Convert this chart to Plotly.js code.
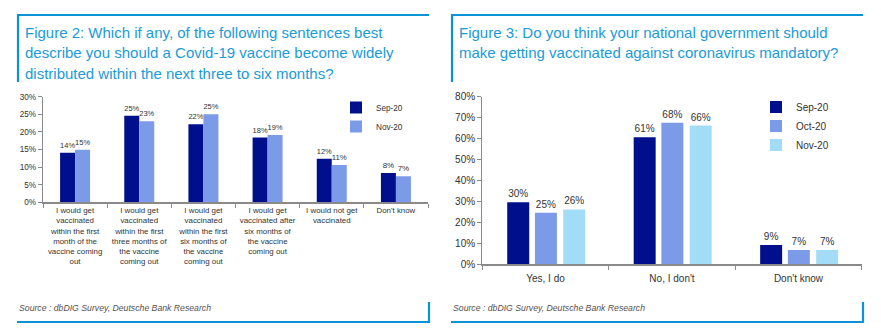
<!DOCTYPE html>
<html>
<head>
<meta charset="utf-8">
<script src="https://cdn.plot.ly/plotly-3.0.1.min.js"></script>
<style>
  html, body { margin: 0; padding: 0; background: #ffffff; }
  #chart { width: 881px; height: 333px; }
</style>
</head>
<body>
<div id="chart"></div>
<script>
// ---------- Data ----------
const leftCategories = [
  'I would get<br>vaccinated<br>within the first<br>month of the<br>vaccine coming<br>out',
  'I would get<br>vaccinated<br>within the first<br>three months of<br>the vaccine<br>coming out',
  'I would get<br>vaccinated<br>within the first<br>six months of<br>the vaccine<br>coming out',
  'I would get<br>vaccinated after<br>six months of<br>the vaccine<br>coming out',
  'I would not get<br>vaccinated',
  "Don't know"
];
const leftSep20 = [14.1, 24.6, 22.2, 18.4, 12.4, 8.3];
const leftNov20 = [14.9, 23.0, 25.0, 19.1, 10.6, 7.4];

const rightCategories = ['Yes, I do', "No, I don't", "Don't know"];
const rightSep20 = [29.6, 60.6, 9.2];
const rightOct20 = [24.6, 67.6, 6.8];
const rightNov20 = [26.2, 66.2, 6.8];

const leftTitleLines = [
  'Figure 2: Which if any, of the following sentences best',
  'describe you should a Covid-19 vaccine become widely',
  'distributed within the next three to six months?'
];
const rightTitleLines = [
  'Figure 3: Do you think your national government should',
  'make getting vaccinated against coronavirus mandatory?'
];
const sourceText = 'Source : dbDIG Survey, Deutsche Bank Research';

// ---------- Helpers ----------
const W = 881, H = 333;
const px = v => v / W;
const py = v => 1 - v / H;

const FONT = '"Liberation Sans", Arial, "DejaVu Sans", sans-serif';
const NAVY = '#00108c';
const MID = '#7b9be8';
const LIGHT = '#a3dcf7';
const TITLE_BLUE = '#1a9bd7';
const BORDER_BLUE = '#0a94d6';
const AXIS_GREY = '#8a8a8a';
const TEXT_DARK = '#333333';

// ---------- Traces ----------
const lw = 15 / 64.2;
const rw = 22 / 126.5;
const traces = [
  { type: 'bar', name: 'Sep-20', x: leftCategories, y: leftSep20, xaxis: 'x', yaxis: 'y',
    marker: { color: NAVY }, width: lw, offset: -lw, legend: 'legend',
    texttemplate: '%{y:.0f}%', textposition: 'outside', cliponaxis: false,
    textfont: { size: 8, color: TEXT_DARK, family: FONT }, hoverinfo: 'skip' },
  { type: 'bar', name: 'Nov-20', x: leftCategories, y: leftNov20, xaxis: 'x', yaxis: 'y',
    marker: { color: MID }, width: lw, offset: 0, legend: 'legend',
    texttemplate: '%{y:.0f}%', textposition: 'outside', cliponaxis: false,
    textfont: { size: 8, color: TEXT_DARK, family: FONT }, hoverinfo: 'skip' },
  { type: 'bar', name: 'Sep-20', x: rightCategories, y: rightSep20, xaxis: 'x2', yaxis: 'y2',
    marker: { color: NAVY }, width: rw, offset: -0.303, legend: 'legend2',
    texttemplate: '%{y:.0f}%', textposition: 'outside', cliponaxis: false,
    textfont: { size: 10, color: TEXT_DARK, family: FONT }, hoverinfo: 'skip' },
  { type: 'bar', name: 'Oct-20', x: rightCategories, y: rightOct20, xaxis: 'x2', yaxis: 'y2',
    marker: { color: MID }, width: rw, offset: -0.084, legend: 'legend2',
    texttemplate: '%{y:.0f}%', textposition: 'outside', cliponaxis: false,
    textfont: { size: 10, color: TEXT_DARK, family: FONT }, hoverinfo: 'skip' },
  { type: 'bar', name: 'Nov-20', x: rightCategories, y: rightNov20, xaxis: 'x2', yaxis: 'y2',
    marker: { color: LIGHT }, width: rw, offset: 0.14, legend: 'legend2',
    texttemplate: '%{y:.0f}%', textposition: 'outside', cliponaxis: false,
    textfont: { size: 10, color: TEXT_DARK, family: FONT }, hoverinfo: 'skip' }
];

// ---------- Annotations ----------
const annotations = [];
const leftTitleY = [32, 52.5, 73];
leftTitleLines.forEach((t, i) => annotations.push({
  text: t, xref: 'paper', yref: 'paper', x: px(22.5), y: py(leftTitleY[i]),
  xanchor: 'left', yanchor: 'middle', showarrow: false,
  font: { family: FONT, size: 15, color: TITLE_BLUE }
}));
const rightTitleY = [32, 52.5];
rightTitleLines.forEach((t, i) => annotations.push({
  text: t, xref: 'paper', yref: 'paper', x: px(456.5), y: py(rightTitleY[i]),
  xanchor: 'left', yanchor: 'middle', showarrow: false,
  font: { family: FONT, size: 15, color: TITLE_BLUE }
}));
[17, 451].forEach(x0 => annotations.push({
  text: '<i>' + sourceText + '</i>', xref: 'paper', yref: 'paper', x: px(x0), y: py(308),
  xanchor: 'left', yanchor: 'middle', showarrow: false,
  font: { family: FONT, size: 8.7, color: '#5a5050' }
}));

// ---------- Shapes (panel frames) ----------
const line = (x0, y0, x1, y1) => ({
  type: 'line', xref: 'paper', yref: 'paper',
  x0: px(x0), y0: py(y0), x1: px(x1), y1: py(y1),
  line: { color: BORDER_BLUE, width: 2.2 }
});
const shapes = [
  line(17, 15, 429, 15), line(18, 14, 18, 82), line(17, 322, 429.5, 322), line(429, 302, 429, 323),
  line(451, 15, 863, 15), line(452, 14, 452, 82), line(451, 322, 863.5, 322), line(863, 302, 863, 323)
];

// ---------- Layout ----------
const baseAxis = {
  showline: true, linecolor: AXIS_GREY, linewidth: 1.2,
  ticks: 'outside', tickcolor: AXIS_GREY, ticklen: 4, tickwidth: 1,
  showgrid: false, zeroline: false, fixedrange: true
};
const layout = {
  width: W, height: H,
  margin: { l: 0, r: 0, t: 0, b: 0 },
  paper_bgcolor: '#ffffff', plot_bgcolor: '#ffffff',
  font: { family: FONT, color: TEXT_DARK },
  barmode: 'group',
  showlegend: true,
  xaxis: Object.assign({}, baseAxis, {
    domain: [px(43), px(428)], anchor: 'y', type: 'category', tickson: 'boundaries',
    tickfont: { size: 7.9, color: TEXT_DARK }, tickangle: 0
  }),
  yaxis: Object.assign({}, baseAxis, {
    domain: [py(202.3), py(96.7)], anchor: 'x', range: [0, 30], dtick: 5,
    ticksuffix: '%', tickfont: { size: 8.2, color: TEXT_DARK }
  }),
  xaxis2: Object.assign({}, baseAxis, {
    domain: [px(482.3), px(861.7)], anchor: 'y2', type: 'category', tickson: 'boundaries',
    tickfont: { size: 10, color: TEXT_DARK }, tickangle: 0, ticklabelstandoff: 4
  }),
  yaxis2: Object.assign({}, baseAxis, {
    domain: [py(264.3), py(96.7)], anchor: 'x2', range: [0, 80], dtick: 10,
    ticksuffix: '%', tickfont: { size: 10, color: TEXT_DARK }
  }),
  legend: {
    x: px(336), y: py(93), xanchor: 'left', yanchor: 'top',
    bgcolor: 'rgba(0,0,0,0)', font: { size: 8.2, color: TEXT_DARK }, tracegroupgap: 0
  },
  legend2: {
    x: px(756), y: py(92.5), xanchor: 'left', yanchor: 'top',
    bgcolor: 'rgba(0,0,0,0)', font: { size: 10, color: TEXT_DARK }, tracegroupgap: 0
  },
  annotations: annotations,
  shapes: shapes
};

Plotly.newPlot('chart', traces, layout, { displayModeBar: false, staticPlot: true });
</script>
</body>
</html>
